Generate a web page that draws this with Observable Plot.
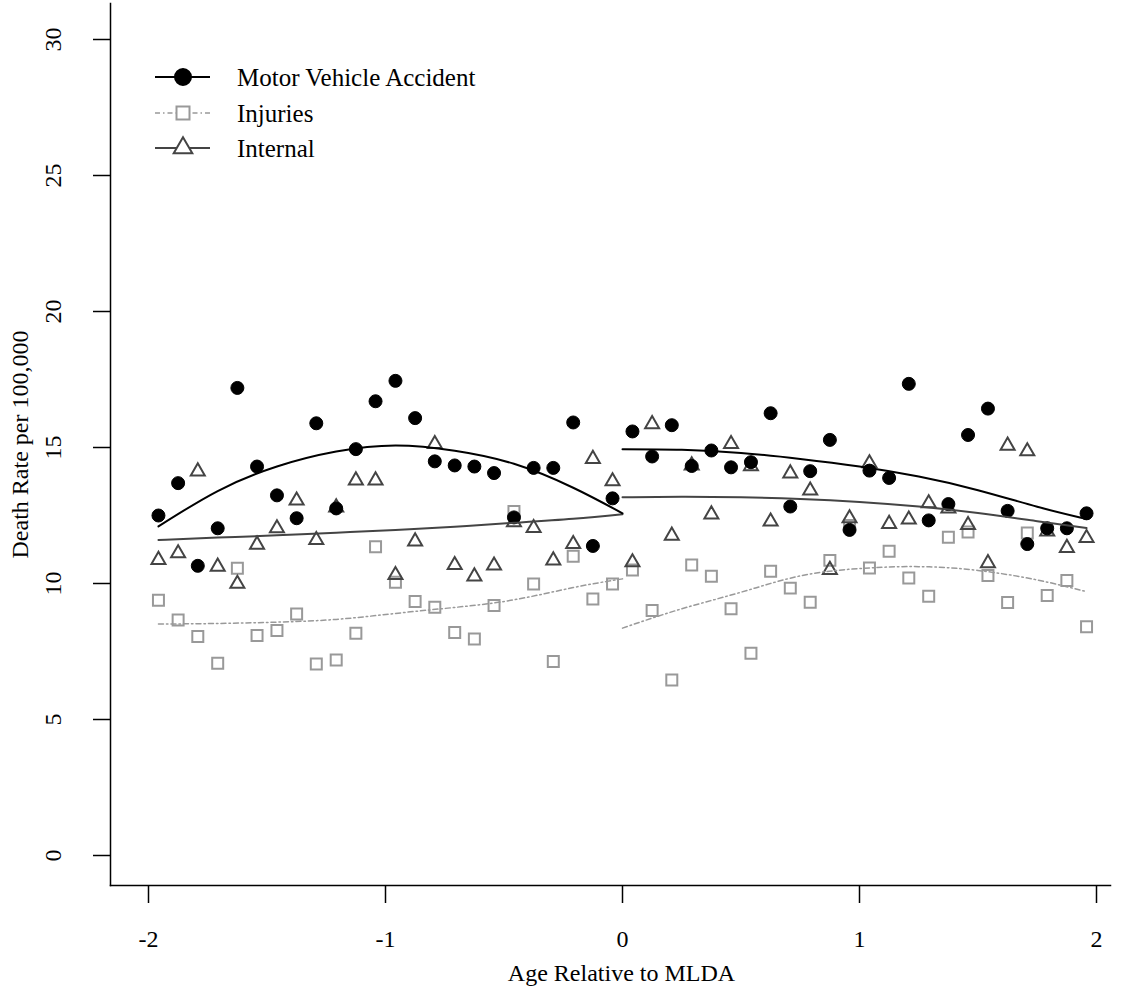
<!DOCTYPE html>
<html>
<head>
<meta charset="utf-8">
<script src="https://cdn.jsdelivr.net/npm/d3@7"></script>
<script src="https://cdn.jsdelivr.net/npm/@observablehq/plot@0.6"></script>
<style>
  body { margin: 0; background: #fff; }
  #chart { position: relative; width: 1127px; height: 993px; }
  #legend { position: absolute; left: 0; top: 0; pointer-events: none; }
</style>
</head>
<body>
<div id="chart"></div>
<script>
// ---- data ----
const age = [-1.958, -1.875, -1.792, -1.708, -1.625, -1.542, -1.458, -1.375, -1.292, -1.208, -1.125, -1.042,
             -0.958, -0.875, -0.792, -0.708, -0.625, -0.542, -0.458, -0.375, -0.292, -0.208, -0.125, -0.042,
              0.042,  0.125,  0.208,  0.292,  0.375,  0.458,  0.542,  0.625,  0.708,  0.792,  0.875,  0.958,
              1.042,  1.125,  1.208,  1.292,  1.375,  1.458,  1.542,  1.625,  1.708,  1.792,  1.875,  1.958];

const motorVehicle = [12.50, 13.69, 10.65, 12.03, 17.19, 14.30, 13.24, 12.40, 15.89, 12.76, 14.94, 16.70,
                      17.45, 16.08, 14.49, 14.34, 14.30, 14.06, 12.43, 14.25, 14.25, 15.92, 11.38, 13.13,
                      15.59, 14.67, 15.82, 14.32, 14.89, 14.27, 14.46, 16.26, 12.83, 14.13, 15.28, 11.97,
                      14.15, 13.88, 17.34, 12.32, 12.92, 15.46, 16.43, 12.67, 11.45, 12.03, 12.03, 12.58];

const injuries = [9.38, 8.66, 8.05, 7.07, 10.56, 8.09, 8.27, 8.88, 7.04, 7.19, 8.17, 11.35,
                  10.05, 9.34, 9.13, 8.20, 7.96, 9.19, 12.65, 9.98, 7.13, 11.00, 9.43, 9.98,
                  10.50, 9.01, 6.45, 10.68, 10.27, 9.07, 7.44, 10.45, 9.83, 9.31, 10.85, 12.13,
                  10.57, 11.19, 10.20, 9.53, 11.70, 11.89, 10.29, 9.30, 11.86, 9.56, 10.11, 8.41];

const internal = [10.87, 11.11, 14.12, 10.62, 9.99, 11.43, 12.03, 13.05, 11.60, 12.80, 13.79, 13.79,
                  10.31, 11.55, 15.13, 10.68, 10.26, 10.66, 12.25, 12.04, 10.85, 11.45, 14.58, 13.76,
                  10.78, 15.86, 11.76, 14.34, 12.54, 15.13, 14.31, 12.28, 14.05, 13.42, 10.50, 12.40,
                  14.42, 12.19, 12.35, 12.95, 12.76, 12.15, 10.75, 15.07, 14.86, 11.91, 11.31, 11.67];

// fitted curves, read at a few ages on each side of the cutoff
const fitAgeLeft  = [-1.958, -1.708, -1.458, -1.208, -0.958, -0.708, -0.458, -0.208, 0];
const fitAgeRight = [0, 0.25, 0.5, 0.75, 1.0, 1.25, 1.5, 1.75, 1.958];
const motorVehicleFitLeft  = [12.10, 13.40, 14.30, 14.85, 15.07, 14.88, 14.40, 13.52, 12.58];
const motorVehicleFitRight = [14.94, 14.92, 14.80, 14.58, 14.30, 13.93, 13.43, 12.82, 12.37];
const injuriesFitLeft  = [8.51, 8.53, 8.58, 8.68, 8.90, 9.12, 9.40, 9.85, 10.17];
const injuriesFitRight = [8.36, 9.07, 9.68, 10.28, 10.55, 10.62, 10.48, 10.13, 9.70];
const internalFitLeft  = [11.60, 11.69, 11.77, 11.87, 11.97, 12.09, 12.23, 12.38, 12.55];
const internalFitRight = [13.17, 13.19, 13.17, 13.11, 13.00, 12.83, 12.59, 12.29, 12.04];

const xTicks = [-2, -1, 0, 1, 2];
const yTicks = [0, 5, 10, 15, 20, 25, 30];
const seriesNames = ["Motor Vehicle Accident", "Injuries", "Internal"];
const xTitle = "Age Relative to MLDA";
const yTitle = "Death Rate per 100,000";

// ---- tables ----
const points = age.map((a, i) => ({age: a, mva: motorVehicle[i], inj: injuries[i], int: internal[i]}));
const fitRows = (xs, ys, side) => xs.map((x, i) => ({age: x, rate: ys[i], side}));
const mvaFit = [...fitRows(fitAgeLeft, motorVehicleFitLeft, "L"), ...fitRows(fitAgeRight, motorVehicleFitRight, "R")];
const injFit = [...fitRows(fitAgeLeft, injuriesFitLeft, "L"), ...fitRows(fitAgeRight, injuriesFitRight, "R")];
const intFit = [...fitRows(fitAgeLeft, internalFitLeft, "L"), ...fitRows(fitAgeRight, internalFitRight, "R")];

const BLACK = "#000", DARK = "#444", LIGHT = "#999";
const DASH = "5,3,1.5,3";
const FONT = "'Liberation Serif', 'Times New Roman', serif";

const plot = Plot.plot({
  width: 1127, height: 993,
  marginLeft: 110, marginRight: 17, marginTop: 3, marginBottom: 108,
  style: {fontFamily: FONT, fontSize: "24px", background: "#fff", color: "#000"},
  x: {domain: [-2, 2], range: [148, 1096]},
  y: {domain: [0, 30], range: [855, 39]},
  marks: [
    Plot.frame({anchor: "left", stroke: BLACK, strokeWidth: 1.5}),
    Plot.frame({anchor: "bottom", stroke: BLACK, strokeWidth: 1.5}),
    Plot.axisX({ticks: xTicks, tickFormat: d => String(d), tickSize: 18, tickPadding: 26, strokeWidth: 1.5, label: null}),
    Plot.text([xTitle], {frameAnchor: "bottom", lineAnchor: "bottom", dx: 11, dy: 95, fontSize: 24}),
    Plot.axisY({ticks: yTicks, tickFormat: d => String(d), tickSize: 17, tickPadding: 33, tickRotate: -90, strokeWidth: 1.5,
                label: yTitle, labelAnchor: "center", labelArrow: "none", labelOffset: 100}),
    Plot.dot(points, {x: "age", y: "inj", symbol: "square", r: 6.2, stroke: LIGHT, strokeWidth: 2, fill: "none"}),
    Plot.dot(points, {x: "age", y: "int", symbol: "triangle", r: 5.2, stroke: DARK, strokeWidth: 2, fill: "none"}),
    Plot.dot(points, {x: "age", y: "mva", symbol: "circle", r: 6.5, fill: BLACK, stroke: BLACK, strokeWidth: 1}),
    Plot.line(injFit, {x: "age", y: "rate", z: "side", curve: "natural", stroke: LIGHT, strokeWidth: 1.5, strokeDasharray: DASH}),
    Plot.line(intFit, {x: "age", y: "rate", z: "side", curve: "natural", stroke: DARK, strokeWidth: 2}),
    Plot.line(mvaFit, {x: "age", y: "rate", z: "side", curve: "natural", stroke: BLACK, strokeWidth: 2})
  ]
});

const chart = document.getElementById("chart");
chart.appendChild(plot);

// ---- legend (inside the plot area, top-left) ----
const leg = d3.select(chart).append("svg").attr("id", "legend").attr("width", 1127).attr("height", 993);
const legendStyles = [
  {color: BLACK, sym: d3.symbolCircle, size: Math.PI * 8 * 8, fill: BLACK, dash: null, width: 2},
  {color: LIGHT, sym: d3.symbolSquare, size: 13 * 13, fill: "none", dash: DASH, width: 1.5},
  {color: DARK,  sym: d3.symbolTriangle, size: 150, fill: "none", dash: null, width: 2}
];
const rowY = [77, 113, 148];
seriesNames.forEach((name, i) => {
  const s = legendStyles[i];
  const g = leg.append("g").attr("transform", `translate(0,${rowY[i]})`);
  g.append("line").attr("x1", 155).attr("x2", 210).attr("y1", 0).attr("y2", 0)
    .attr("stroke", s.color).attr("stroke-width", s.width).attr("stroke-dasharray", s.dash);
  g.append("path").attr("d", d3.symbol(s.sym, s.size)()).attr("transform", "translate(183,0)")
    .attr("fill", s.fill === "none" ? "#fff" : s.fill).attr("stroke", s.color).attr("stroke-width", 2);
  g.append("text").attr("x", 237).attr("y", 0).attr("dy", "0.35em")
    .attr("font-family", FONT).attr("font-size", 25)
    .attr("fill", "#000").text(name);
});
</script>
</body>
</html>
